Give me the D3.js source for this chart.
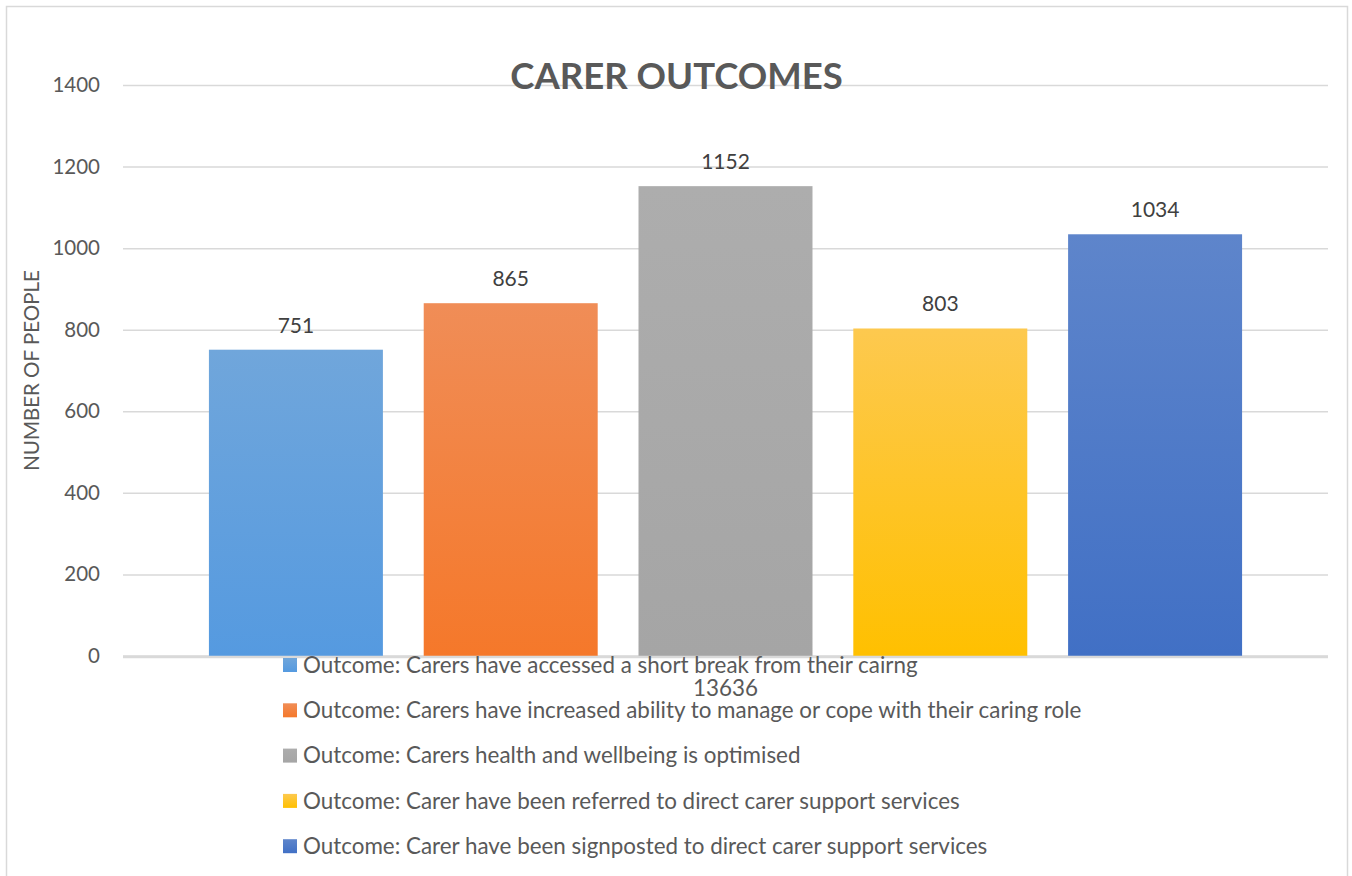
<!DOCTYPE html>
<html>
<head>
<meta charset="utf-8">
<script src="https://cdn.jsdelivr.net/npm/d3@7"></script>
<style>
  html, body { margin: 0; padding: 0; background: #ffffff; }
  svg { display: block; font-family: Lato, "Open Sans", sans-serif; }
</style>
</head>
<body>
<svg id="chart" width="1352" height="876"></svg>
<script>
// Carer outcome counts
const categories = [
  "Outcome: Carers have accessed a short break from their cairng",
  "Outcome: Carers have increased ability to manage or cope with their caring role",
  "Outcome: Carers health and wellbeing is optimised",
  "Outcome: Carer have been referred to direct carer support services",
  "Outcome: Carer have been signposted to direct carer support services"
];
const values = [751, 865, 1152, 803, 1034];
const wrappedNote = "13636";
const yTicks = [0, 200, 400, 600, 800, 1000, 1200, 1400];
const chartTitle = "CARER OUTCOMES";
const yTitle = "NUMBER OF PEOPLE";

// gradient stops (top, bottom) per bar
const colorsTop = ["#70a6db", "#f08d57", "#adadad", "#fdc94f", "#5e85cb"];
const colorsBottom = ["#559ae0", "#f5782a", "#a5a5a5", "#ffc000", "#4170c5"];

const svg = d3.select("#chart");
const W = 1352, H = 876;
const plot = { left: 123, right: 1328, top: 85, bottom: 656 };

// outer chart border
svg.append("rect")
  .attr("x", 6.5).attr("y", 6.5)
  .attr("width", 1341).attr("height", H + 20)
  .attr("fill", "#ffffff")
  .attr("stroke", "#d9d9d9").attr("stroke-width", 1.5);

const defs = svg.append("defs");
values.forEach((v, i) => {
  const g = defs.append("linearGradient")
    .attr("id", "grad" + i)
    .attr("x1", 0).attr("y1", 0).attr("x2", 0).attr("y2", 1);
  g.append("stop").attr("offset", "0%").attr("stop-color", colorsTop[i]);
  g.append("stop").attr("offset", "100%").attr("stop-color", colorsBottom[i]);
});

const x = d3.scaleBand()
  .domain(d3.range(categories.length))
  .range([plot.left, plot.right])
  .paddingInner(0.19)
  .paddingOuter(0.4);

const y = d3.scaleLinear()
  .domain([0, 1400])
  .range([plot.bottom, plot.top]);

// gridlines + tick labels
const yAxis = d3.axisLeft(y)
  .tickValues(yTicks)
  .tickSize(-(plot.right - plot.left))
  .tickPadding(23)
  .tickFormat(d3.format("d"));

const gy = svg.append("g")
  .attr("transform", `translate(${plot.left},0)`)
  .call(yAxis);
gy.select(".domain").remove();
gy.selectAll(".tick line")
  .attr("stroke", "#d9d9d9")
  .attr("stroke-width", d => d === 0 ? 2.5 : 1.5);
gy.selectAll(".tick text")
  .attr("fill", "#595959")
  .attr("font-size", 20.5)
  .attr("font-family", "Lato, sans-serif");

// bars
svg.append("g").selectAll("rect")
  .data(values)
  .join("rect")
  .attr("x", (d, i) => x(i))
  .attr("y", d => y(d))
  .attr("width", x.bandwidth())
  .attr("height", d => y(0) - y(d))
  .attr("fill", (d, i) => `url(#grad${i})`);

// zero line drawn over bars
svg.append("line")
  .attr("x1", plot.left).attr("x2", plot.right)
  .attr("y1", y(0) + 1).attr("y2", y(0) + 1)
  .attr("stroke", "#d9d9d9").attr("stroke-width", 2.5);

// value labels
svg.append("g").selectAll("text")
  .data(values)
  .join("text")
  .attr("x", (d, i) => x(i) + x.bandwidth() / 2)
  .attr("y", d => y(d) - 17)
  .attr("text-anchor", "middle")
  .attr("font-size", 21)
  .attr("fill", "#404040")
  .text(d => d);

// title
svg.append("text")
  .attr("x", (6 + 1347) / 2)
  .attr("y", 89)
  .attr("text-anchor", "middle")
  .attr("font-size", 36.5)
  .attr("font-weight", "bold")
  .attr("fill", "#595959")
  .text(chartTitle);

// y axis title
svg.append("text")
  .attr("transform", `translate(39,${(plot.top + plot.bottom) / 2}) rotate(-90)`)
  .attr("text-anchor", "middle")
  .attr("font-size", 20.5)
  .attr("fill", "#595959")
  .text(yTitle);

// legend
const legendX = 283, legendY0 = 665, rowStep = 45.3;
const lg = svg.append("g");
categories.forEach((c, i) => {
  const cy = legendY0 + i * rowStep;
  lg.append("rect")
    .attr("x", legendX).attr("y", cy - 7)
    .attr("width", 14).attr("height", 14)
    .attr("fill", `url(#grad${i})`);
  lg.append("text")
    .attr("x", legendX + 20)
    .attr("y", cy)
    .attr("dy", "0.35em")
    .attr("font-size", 22.4)
    .attr("fill", "#595959")
    .text(c);
});
// wrapped continuation of the first legend entry
lg.append("text")
  .attr("x", (plot.left + plot.right) / 2)
  .attr("y", legendY0 + 23)
  .attr("dy", "0.35em")
  .attr("text-anchor", "middle")
  .attr("font-size", 22.4)
  .attr("fill", "#595959")
  .text(wrappedNote);
</script>
</body>
</html>
